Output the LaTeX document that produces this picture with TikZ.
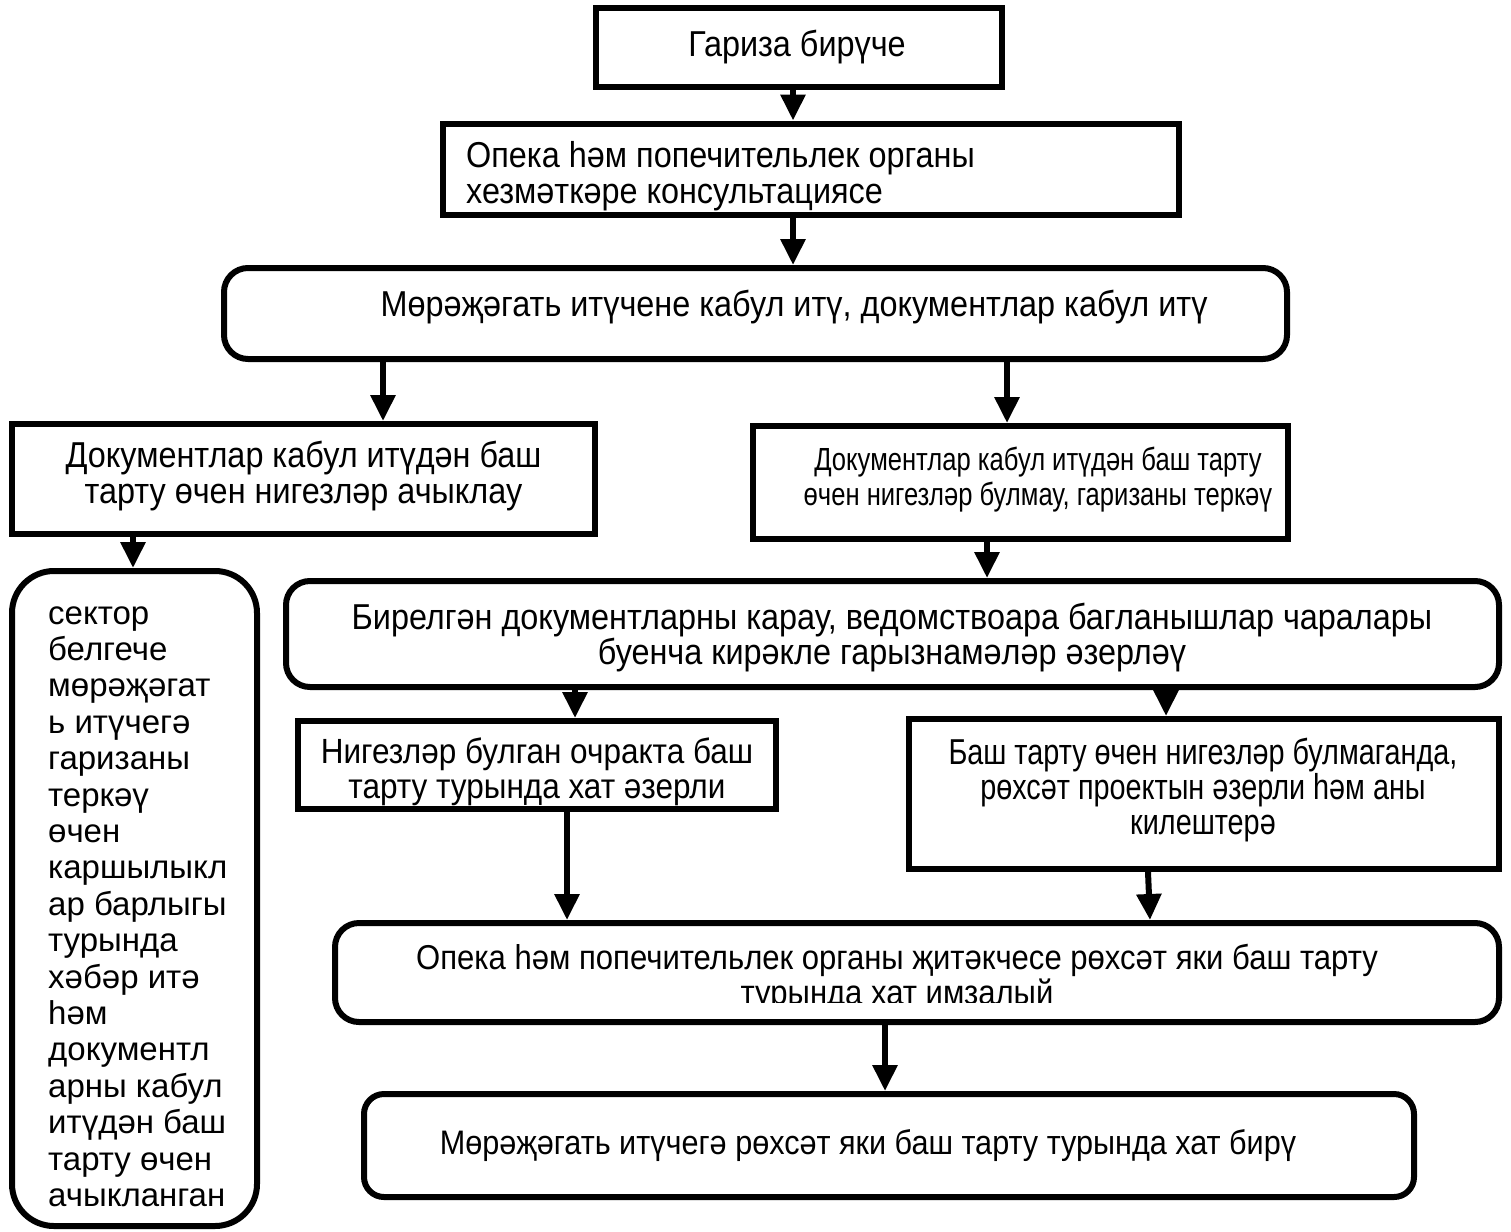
\documentclass[tikz,border=0pt]{standalone}
\usepackage{fontspec}
\setmainfont{Liberation Sans}
\newfontfamily\fA{Liberation Sans}[FakeStretch=0.9]
\newfontfamily\fB{Liberation Sans}[FakeStretch=0.8]
\usetikzlibrary{arrows.meta}
\begin{document}
\begin{tikzpicture}[x=1pt,y=-1pt,
  box/.style={draw=black, line width=6pt, fill=white, inner sep=0pt},
  rbox/.style={box, rounded corners=24pt},
  txt/.style={inner sep=0pt, align=center, font=\fA\fontsize{#1}{35.5}\selectfont},
  txt/.default=36,
  ntxt/.style={inner sep=0pt, align=center, font=\fB\fontsize{#1}{35}\selectfont},
  arr/.style={line width=6pt, -{Triangle[length=26pt,width=24pt]}}]
\useasboundingbox[fill=white] (0,0) rectangle (1511,1231);

% boxes
\node[box, minimum width=406pt, minimum height=79pt] (b1) at (799,47.5) {};
\node[box, minimum width=736pt, minimum height=91pt] (b2) at (811,169) {};
\node[rbox, minimum width=1063pt, minimum height=91pt] (b3) at (755.5,313.5) {};
\node[box, minimum width=583pt, minimum height=110pt] (b4) at (303.5,479) {};
\node[box, minimum width=535pt, minimum height=113pt] (b5) at (1020.5,482.5) {};
\node[box, rounded corners=42pt, minimum width=245pt, minimum height=655pt] (b6) at (134.5,898.5) {};
\node[rbox, minimum width=1213pt, minimum height=106pt] (b7) at (892.5,634) {};
\node[box, minimum width=478pt, minimum height=88pt] (b8) at (537,765) {};
\node[box, minimum width=590pt, minimum height=150pt] (b9) at (1204,794) {};
\node[rbox, minimum width=1164pt, minimum height=99pt] (b10) at (917,972.5) {};
\node[rbox, rounded corners=20pt, minimum width=1050pt, minimum height=103pt] (b11) at (889,1145.5) {};

% texts
\node[txt] (t1) at (797,47) {Гариза бирүче};
\node[txt, anchor=west, align=left] (t2) at (466,176) {Опека һәм попечительлек органы\\хезмәткәре консультациясе};
\node[txt] (t3) at (794,307) {Мөрәҗәгать итүчене кабул итү, документлар кабул итү};
\node[txt] (t4) at (303.5,476) {Документлар кабул итүдән баш\\тарту өчен нигезләр ачыклау};
\node[ntxt=32] (t5) at (1038,480) {Документлар кабул итүдән баш тарту\\өчен нигезләр булмау, гаризаны теркәү};
\node[anchor=west, align=left, inner sep=0pt, font=\fontsize{33}{36.4}\selectfont] (t6) at (48,906.5)
  {сектор\\белгече\\мөрәҗәгат\\ь итүчегә\\гаризаны\\теркәү\\өчен\\каршылыкл\\ар барлыгы\\турында\\хәбәр итә\\һәм\\документл\\арны кабул\\итүдән баш\\тарту өчен\\ачыкланган};
\node[txt] (t7) at (892,637.5) {Бирелгән документларны карау, ведомствоара багланышлар чаралары\\буенча кирәкле гарызнамәләр әзерләү};
\node[txt=35] (t8) at (537,772) {Нигезләр булган очракта баш\\тарту турында хат әзерли};
\node[ntxt=36] (t9) at (1203,790) {Баш тарту өчен нигезләр булмаганда,\\рөхсәт проектын әзерли һәм аны\\килештерә};
\begin{scope}
  \clip (332,920) rectangle (1502,1002);
  \node[txt=34.5] (t10) at (897,978) {Опека һәм попечительлек органы җитәкчесе рөхсәт яки баш тарту\\турында хат имзалый};
\end{scope}
\node[txt=34] (t11) at (868,1146) {Мөрәҗәгать итүчегә рөхсәт яки баш тарту турында хат бирү};

% arrows
\draw[arr] (793,0 |- b1.south) -- (793,0 |- b2.north);
\draw[arr] (793,0 |- b2.south) -- (793,0 |- b3.north);
\draw[arr] (383,0 |- b3.south) -- (383,0 |- b4.north);
\draw[arr] (1007,0 |- b3.south) -- (1007,0 |- b5.north);
\draw[arr] (133,0 |- b4.south) -- (133,0 |- b6.north);
\draw[arr] (987,0 |- b5.south) -- (987,0 |- b7.north);
\draw[arr] (575,0 |- b7.south) -- (575,0 |- b8.north);
\draw[arr] (1166,0 |- b7.south) -- (1166,0 |- b9.north);
\draw[arr] (567,0 |- b8.south) -- (567,0 |- b10.north);
\draw[arr] (1148,0 |- b9.south) -- (1150,0 |- b10.north);
\draw[arr] (885,0 |- b10.south) -- (885,0 |- b11.north);
\end{tikzpicture}
\end{document}
